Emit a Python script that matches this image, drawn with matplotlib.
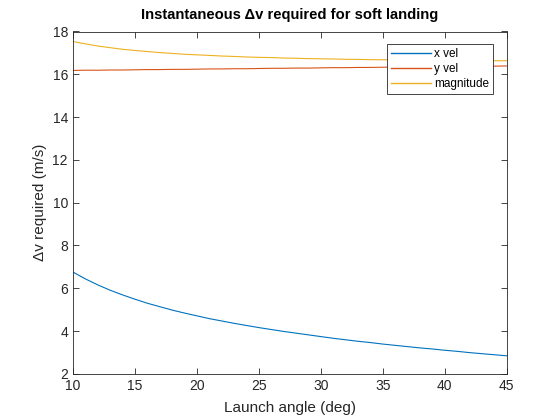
import matplotlib
matplotlib.use("Agg")
import matplotlib.pyplot as plt

angle = list(range(10, 46))
x_vel = [6.76, 6.44, 6.16, 5.91, 5.69, 5.49, 5.30, 5.14, 4.98, 4.84,
         4.71, 4.58, 4.47, 4.36, 4.26, 4.16, 4.07, 3.98, 3.90, 3.82,
         3.74, 3.66, 3.59, 3.52, 3.46, 3.39, 3.33, 3.27, 3.21, 3.16,
         3.10, 3.05, 2.99, 2.94, 2.89, 2.84]
y_vel = [16.18, 16.19, 16.19, 16.20, 16.20, 16.21, 16.22, 16.22, 16.23, 16.23,
         16.24, 16.25, 16.25, 16.26, 16.26, 16.27, 16.28, 16.28, 16.29, 16.29,
         16.30, 16.31, 16.31, 16.32, 16.32, 16.33, 16.34, 16.34, 16.35, 16.35,
         16.36, 16.37, 16.37, 16.38, 16.38, 16.39]
magnitude = [17.535, 17.424, 17.323, 17.245, 17.170, 17.114, 17.064, 17.015, 16.977, 16.936,
             16.909, 16.883, 16.854, 16.834, 16.809, 16.793, 16.781, 16.759, 16.750, 16.732,
             16.724, 16.716, 16.701, 16.695, 16.683, 16.678, 16.676, 16.664, 16.662, 16.653,
             16.651, 16.652, 16.641, 16.642, 16.633, 16.634]
labels = ["x vel", "y vel", "magnitude"]
xticks = [10, 15, 20, 25, 30, 35, 40, 45]
yticks = [2, 4, 6, 8, 10, 12, 14, 16, 18]

plt.rcParams['font.family'] = ['Liberation Sans', 'DejaVu Sans']
ax_col = '#262626'

fig = plt.figure(figsize=(5.6, 4.2), dpi=100)
ax = fig.add_axes([0.13, 0.11, 0.775, 0.815])
ax.plot(angle, x_vel, color='#0072BD', lw=0.8, label=labels[0])
ax.plot(angle, y_vel, color='#D95319', lw=0.8, label=labels[1])
ax.plot(angle, magnitude, color='#EDB120', lw=0.8, label=labels[2])

ax.set_xlim(10, 45)
ax.set_ylim(2, 18)
ax.set_xticks(xticks)
ax.set_yticks(yticks)
ax.tick_params(direction='in', top=True, right=True, length=4, width=0.6,
               colors=ax_col, labelsize=10)
for s in ax.spines.values():
    s.set_color(ax_col)
    s.set_linewidth(0.6)

ax.set_xlabel("Launch angle (deg)", fontsize=11, color=ax_col, labelpad=6)
ax.set_ylabel("Δv required (m/s)", fontsize=11, color=ax_col)
ax.set_title("Instantaneous Δv required for soft landing", fontsize=10.6,
             fontweight='bold', color='black', pad=9)

leg = ax.legend(loc='upper right', bbox_to_anchor=(0.968, 0.963), fontsize=8.5,
                fancybox=False, framealpha=1, edgecolor=ax_col, handlelength=3.4,
                borderpad=0.35, labelspacing=0.25, handletextpad=0.25,
                borderaxespad=0)
leg.get_frame().set_linewidth(0.6)
for ln in leg.get_lines():
    ln.set_linewidth(1.0)

fig.savefig("out.png", dpi=100)
